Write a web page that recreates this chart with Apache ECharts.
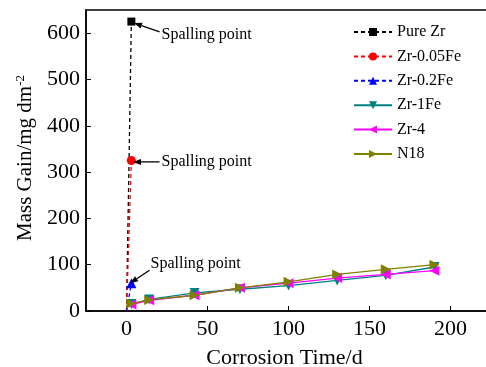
<!DOCTYPE html>
<html><head><meta charset="utf-8">
<script src="https://cdn.jsdelivr.net/npm/echarts@6/dist/echarts.min.js"></script>
<style>html,body{margin:0;padding:0;background:#fff}#c{width:486px;height:367px}</style>
</head><body><div id="c"></div>
<script>
// ---- data ----
const seriesNames = ['Pure Zr','Zr-0.05Fe','Zr-0.2Fe','Zr-1Fe','Zr-4','N18'];
const spallX = [0, 3];
const pureZr = [0, 625];
const zr005Fe = [0, 325];
const zr02Fe = [0, 60];
const timeDays = [3, 14, 42, 70, 100, 130, 160, 190];
const zr1Fe = [15, 25, 39, 47, 55, 66, 77, 95];
const zr4 = [14, 23, 34, 50, 60, 71, 79, 87];
const n18 = [16, 24, 34, 50, 63, 79, 90, 100];
const xTicks = [0, 50, 100, 150, 200];
const yTicks = [0, 100, 200, 300, 400, 500, 600];
const annotations = [
  {text:'Spalling point', tail:[20.4, 603], tip:[4.6, 622], label:[21.6, 596]},
  {text:'Spalling point', tail:[20.4, 322], tip:[4.0, 322], label:[21.6, 322]},
  {text:'Spalling point', tail:[14.2, 88], tip:[2.2, 60], label:[14.8, 103]}
];

const FONT = '"Liberation Serif","Times New Roman",serif';
const zip = (xs, ys) => xs.map((x, i) => [x, ys[i]]);

const chart = echarts.init(document.getElementById('c'), null, {renderer:'canvas'});

function lineSeries(name, data, color, symbol, rotate, dashed, size) {
  return {
    name, type:'line', data,
    symbol, symbolRotate: rotate,
    symbolSize: (v) => (v[0] === 0 ? 0 : size),
    showSymbol: true,
    itemStyle:{color},
    lineStyle:{color, width:1.3, type: dashed ? [4,3] : 'solid'},
    emphasis:{disabled:true},
    animation:false
  };
}

chart.setOption({
  animation:false,
  grid:{left:86, top:10, width:410, height:301, outerBoundsMode:'none', containLabel:false,
        show:true, borderColor:'#000', borderWidth:1.5, backgroundColor:'transparent'},
  xAxis:{
    type:'value', min:-25, max:228,
    name:'Corrosion Time/d', nameLocation:'middle', nameGap:36,
    nameTextStyle:{fontFamily:FONT, fontSize:22, color:'#000', padding:[0,13,0,0]},
    axisLine:{show:true, onZero:false, lineStyle:{color:'#000', width:1.5}},
    axisTick:{show:true, inside:true, length:5, customValues:xTicks, lineStyle:{color:'#000', width:1}},
    axisLabel:{customValues:xTicks, fontFamily:FONT, fontSize:22, color:'#000', margin:7},
    splitLine:{show:false}
  },
  yAxis:{
    type:'value', min:0, max:650,
    name:'Mass Gain/mg dm{sup|-2}', nameLocation:'middle', nameGap:47, nameRotate:90,
    nameTextStyle:{fontFamily:FONT, fontSize:21, color:'#000', padding:[0,0,0,5],
      rich:{sup:{fontFamily:FONT, fontSize:13, color:'#000', verticalAlign:'top', padding:[0,0,11,0]}}},
    axisLine:{show:true, onZero:false, lineStyle:{color:'#000', width:1.5}},
    axisTick:{show:true, inside:true, length:5, customValues:yTicks, lineStyle:{color:'#000', width:1}},
    axisLabel:{customValues:yTicks, fontFamily:FONT, fontSize:22, color:'#000', margin:6},
    splitLine:{show:false}
  },
  legend:{
    orient:'vertical', left:353, top:24, padding:0, itemWidth:38, itemHeight:10, itemGap:8.4,
    data:seriesNames,
    textStyle:{fontFamily:FONT, fontSize:16, color:'#000', lineHeight:16}
  },
  series:[
    lineSeries('Pure Zr', zip(spallX, pureZr), '#000000', 'rect', 0, true, 8),
    lineSeries('Zr-0.05Fe', zip(spallX, zr005Fe), '#ff0000', 'circle', 0, true, 9),
    lineSeries('Zr-0.2Fe', zip(spallX, zr02Fe), '#0000ff', 'triangle', 0, true, 10),
    lineSeries('Zr-1Fe', zip(timeDays, zr1Fe), '#008080', 'triangle', 180, false, 10),
    lineSeries('Zr-4', zip(timeDays, zr4), '#ff00ff', 'triangle', 90, false, 10),
    lineSeries('N18', zip(timeDays, n18), '#808000', 'triangle', -90, false, 10)
  ]
});

// annotations: arrows + text placed via axis scales
const g = [];
annotations.forEach(a => {
  const t = chart.convertToPixel({gridIndex:0}, a.tail);
  const p = chart.convertToPixel({gridIndex:0}, a.tip);
  const l = chart.convertToPixel({gridIndex:0}, a.label);
  const ang = Math.atan2(p[1]-t[1], p[0]-t[0]);
  const hl = 8, hw = 3;
  const bx = p[0] - hl*Math.cos(ang), by = p[1] - hl*Math.sin(ang);
  const nx = -Math.sin(ang), ny = Math.cos(ang);
  g.push({type:'line', shape:{x1:t[0], y1:t[1], x2:bx, y2:by}, style:{stroke:'#000', lineWidth:1.3}, z:100});
  g.push({type:'polygon', shape:{points:[[p[0],p[1]],[bx+nx*hw, by+ny*hw],[bx-nx*hw, by-ny*hw]]}, style:{fill:'#000'}, z:100});
  g.push({type:'text', x:l[0], y:l[1], style:{text:a.text, font:'16px ' + FONT, fill:'#000', verticalAlign:'middle', align:'left'}, z:100});
});
chart.setOption({graphic:g});
</script></body></html>
